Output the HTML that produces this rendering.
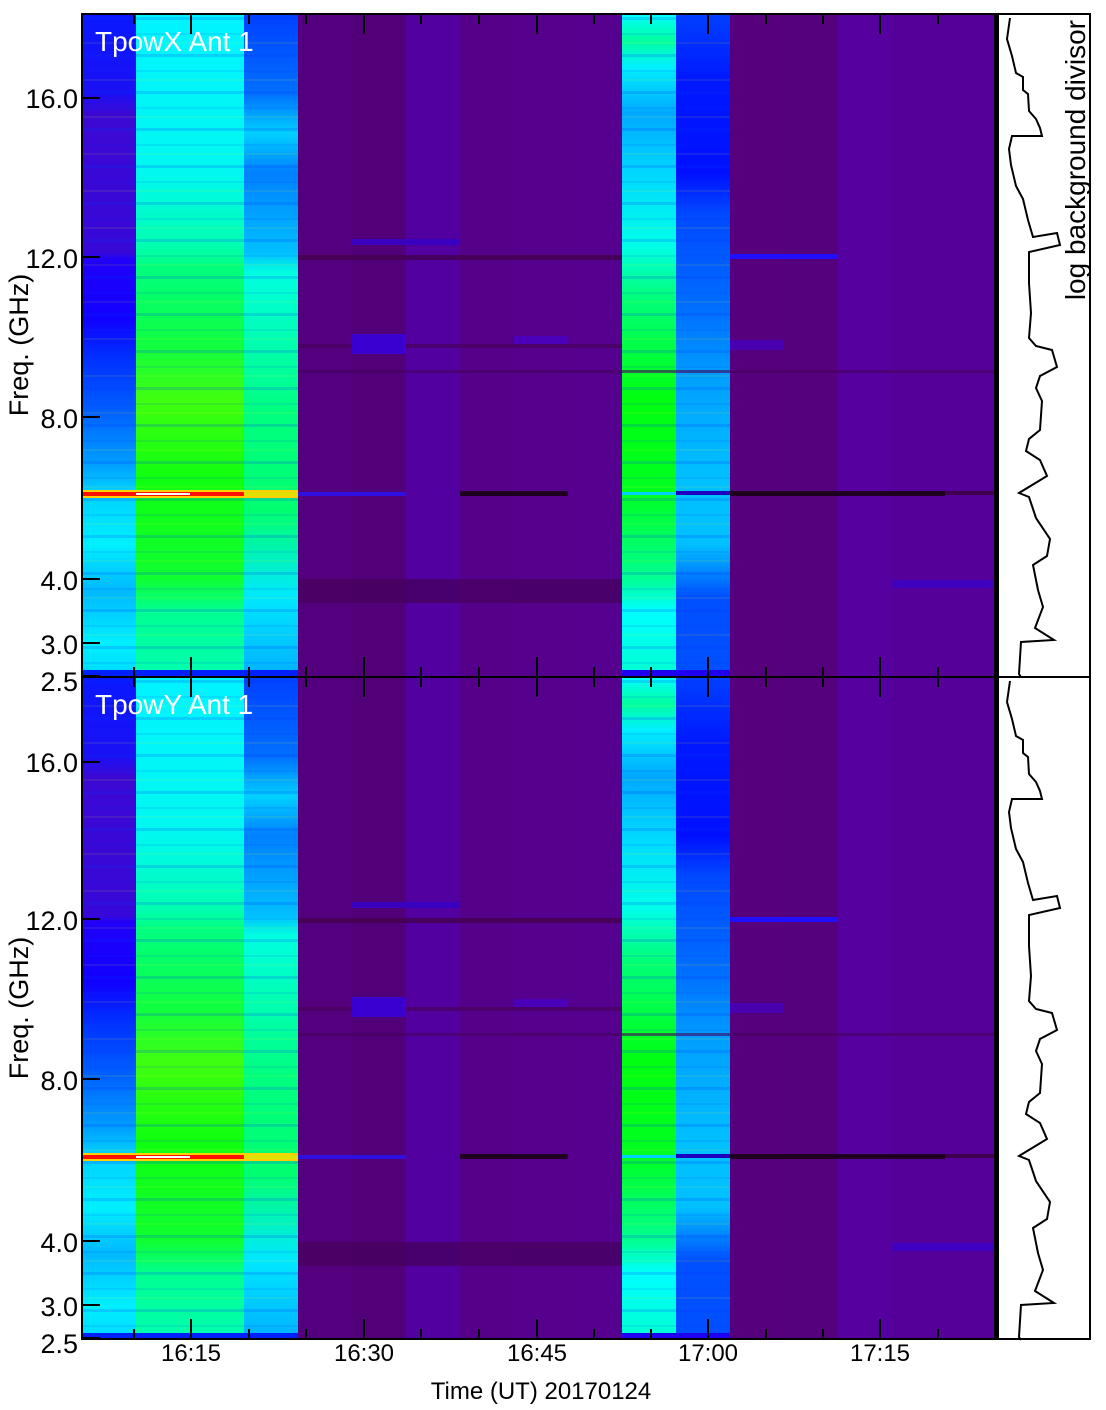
<!DOCTYPE html>
<html><head><meta charset="utf-8"><style>
html,body{margin:0;padding:0;background:#fff;}
svg{display:block;font-family:"Liberation Sans",sans-serif;}
</style></head><body>
<svg width="1106" height="1410" viewBox="0 0 1106 1410" xmlns="http://www.w3.org/2000/svg">
<defs>
<linearGradient id="g0" x1="0" y1="0" x2="0" y2="1">
<stop offset="0" stop-color="#0a18ff"/><stop offset="0.12" stop-color="#1a10f4"/><stop offset="0.15" stop-color="#3c08d4"/>
<stop offset="0.36" stop-color="#3808d8"/><stop offset="0.37" stop-color="#2000f8"/><stop offset="0.46" stop-color="#1000ff"/>
<stop offset="0.52" stop-color="#0030ff"/><stop offset="0.6" stop-color="#0060ff"/><stop offset="0.68" stop-color="#00a0ff"/>
<stop offset="0.72" stop-color="#00d0ff"/><stop offset="0.8" stop-color="#00f0ff"/><stop offset="0.87" stop-color="#00b8ff"/>
<stop offset="0.95" stop-color="#00f0ff"/><stop offset="1" stop-color="#00d8ff"/></linearGradient>
<linearGradient id="g1" x1="0" y1="0" x2="0" y2="1">
<stop offset="0" stop-color="#00f4ff"/><stop offset="0.24" stop-color="#00f8f0"/><stop offset="0.35" stop-color="#00ffb0"/>
<stop offset="0.38" stop-color="#00ff80"/><stop offset="0.5" stop-color="#10ff40"/><stop offset="0.58" stop-color="#40ff10"/>
<stop offset="0.7" stop-color="#10ff10"/><stop offset="0.85" stop-color="#10ff30"/><stop offset="0.9" stop-color="#00ff90"/>
<stop offset="1" stop-color="#00ffb0"/></linearGradient>
<linearGradient id="g3" x1="0" y1="0" x2="0" y2="1">
<stop offset="0" stop-color="#0040ff"/><stop offset="0.12" stop-color="#0070ff"/><stop offset="0.18" stop-color="#00d0ff"/>
<stop offset="0.24" stop-color="#0080ff"/><stop offset="0.36" stop-color="#00c0ff"/><stop offset="0.39" stop-color="#00ffe0"/>
<stop offset="0.6" stop-color="#00ff80"/><stop offset="0.75" stop-color="#00ff70"/><stop offset="0.88" stop-color="#00e8ff"/>
<stop offset="1" stop-color="#00b0ff"/></linearGradient>
<linearGradient id="g11" x1="0" y1="0" x2="0" y2="1">
<stop offset="0" stop-color="#00ffff"/><stop offset="0.04" stop-color="#00ffa0"/><stop offset="0.08" stop-color="#00f0ff"/>
<stop offset="0.15" stop-color="#00a8ff"/><stop offset="0.24" stop-color="#00d8ff"/><stop offset="0.35" stop-color="#00ffe8"/>
<stop offset="0.42" stop-color="#00ff80"/><stop offset="0.58" stop-color="#00ff10"/><stop offset="0.72" stop-color="#00ff20"/>
<stop offset="0.85" stop-color="#00ff90"/><stop offset="0.9" stop-color="#00ffff"/><stop offset="1" stop-color="#00ffd0"/></linearGradient>
<linearGradient id="g12" x1="0" y1="0" x2="0" y2="1">
<stop offset="0" stop-color="#0040ff"/><stop offset="0.1" stop-color="#0018ff"/><stop offset="0.24" stop-color="#0010ff"/>
<stop offset="0.3" stop-color="#0048ff"/><stop offset="0.45" stop-color="#0070ff"/><stop offset="0.55" stop-color="#00a0ff"/>
<stop offset="0.7" stop-color="#00c0ff"/><stop offset="0.8" stop-color="#00c0ff"/><stop offset="0.88" stop-color="#0050ff"/>
<stop offset="1" stop-color="#0050ff"/></linearGradient>
<pattern id="stripes" x="0" y="0" width="10" height="37" patternUnits="userSpaceOnUse">
<rect x="0" y="3" width="10" height="3" fill="#0030ff" opacity="0.18"/>
<rect x="0" y="19" width="10" height="2" fill="#0030ff" opacity="0.1"/>
<rect x="0" y="28" width="10" height="2" fill="#ffff00" opacity="0.08"/>
</pattern>
<g id="panel">
<rect x="82" y="0" width="54" height="663" fill="url(#g0)"/>
<rect x="136" y="0" width="108" height="663" fill="url(#g1)"/>
<rect x="244" y="0" width="54" height="663" fill="url(#g3)"/>
<rect x="298" y="0" width="54" height="663" fill="#54007e"/>
<rect x="352" y="0" width="54" height="663" fill="#52007a"/>
<rect x="406" y="0" width="54" height="663" fill="#5200a0"/>
<rect x="460" y="0" width="54" height="663" fill="#54008a"/>
<rect x="514" y="0" width="54" height="663" fill="#56008e"/>
<rect x="568" y="0" width="54" height="663" fill="#560090"/>
<rect x="622" y="0" width="54" height="663" fill="url(#g11)"/>
<rect x="676" y="0" width="54" height="663" fill="url(#g12)"/>
<rect x="730" y="0" width="54" height="663" fill="#56007e"/>
<rect x="784" y="0" width="54" height="663" fill="#55007c"/>
<rect x="838" y="0" width="54" height="663" fill="#5600a0"/>
<rect x="892" y="0" width="105" height="663" fill="#56009a"/>
<rect x="82" y="0" width="216" height="663" fill="url(#stripes)"/>
<rect x="622" y="0" width="108" height="663" fill="url(#stripes)"/>
<rect x="298" y="241" width="324" height="5" fill="#44004c" opacity="0.8"/>
<rect x="352" y="225" width="108" height="6" fill="#3a00c0"/>
<rect x="730" y="240" width="108" height="5" fill="#2010ff"/>
<rect x="298" y="330" width="324" height="4" fill="#48005c" opacity="0.7"/>
<rect x="352" y="320" width="54" height="20" fill="#3a00d0"/>
<rect x="514" y="322" width="54" height="8" fill="#4a00b8"/>
<rect x="730" y="326" width="54" height="10" fill="#4800b0"/>
<rect x="298" y="356" width="700" height="3" fill="#46005c" opacity="0.6"/>
<rect x="298" y="478" width="108" height="4" fill="#3010e0"/>
<rect x="460" y="477" width="108" height="5" fill="#200020"/>
<rect x="730" y="477" width="215" height="5" fill="#200020"/>
<rect x="945" y="477" width="52" height="4" fill="#400050"/>
<rect x="676" y="477" width="54" height="4" fill="#2000c0"/>
<rect x="622" y="478" width="54" height="3" fill="#00d0ff"/>
<rect x="82" y="477" width="162" height="6" fill="#ff1000"/>
<rect x="82" y="476" width="216" height="2" fill="#ffd000"/>
<rect x="82" y="482" width="216" height="2" fill="#ffd000"/>
<rect x="244" y="478" width="54" height="4" fill="#e0e000"/>
<rect x="136" y="479" width="54" height="2" fill="#ffffff"/>
<rect x="298" y="565" width="324" height="24" fill="#46005a" opacity="0.7"/>
<rect x="892" y="566" width="105" height="8" fill="#4000c0"/>
<rect x="82" y="656" width="216" height="7" fill="#0020ff"/>
<rect x="622" y="656" width="108" height="7" fill="#2000f0"/>
<rect x="994" y="0" width="3" height="663" fill="#000"/>
</g>
<path id="curve" fill="none" stroke="#000" stroke-width="2" d="M1010,4 L1007,25 L1012,42 L1016,59 L1023,63 L1023,76 L1028,80 L1029,97 L1036,105 L1040,114 L1042,122 L1012,122 L1009,135 L1011,151 L1016,172 L1023,185 L1028,206 L1033,223 L1057,219 L1060,231 L1029,238 L1029,269 L1031,299 L1029,324 L1036,332 L1052,336 L1057,353 L1040,362 L1036,374 L1042,387 L1040,416 L1029,425 L1026,437 L1040,446 L1047,462 L1019,479 L1029,483 L1036,504 L1050,525 L1047,542 L1033,551 L1038,576 L1043,593 L1035,614 L1054,626 L1021,628 L1019,660 L1021,663"/>
</defs>
<use href="#panel" transform="translate(0,14)"/>
<use href="#panel" transform="translate(0,677)"/>
<use href="#curve" transform="translate(0,14)"/>
<use href="#curve" transform="translate(0,677)"/>
<g fill="none" stroke="#000" stroke-width="2">
<rect x="82" y="14" width="1008" height="1325"/>
<line x1="82" y1="677" x2="1090" y2="677"/>
<line x1="998" y1="14" x2="998" y2="1339"/>
</g>
<g stroke="#000" stroke-width="2">
<path d="M191,14v20M364,14v20M537,14v20M708,14v20M880,14v20M134,14v10M249,14v10M306,14v10M421,14v10M479,14v10M594,14v10M651,14v10M766,14v10M823,14v10M938,14v10"/>
<path d="M191,677v-20M364,677v-20M537,677v-20M708,677v-20M880,677v-20M134,677v-10M249,677v-10M306,677v-10M421,677v-10M479,677v-10M594,677v-10M651,677v-10M766,677v-10M823,677v-10M938,677v-10"/>
<path d="M191,677v20M364,677v20M537,677v20M708,677v20M880,677v20M134,677v10M249,677v10M306,677v10M421,677v10M479,677v10M594,677v10M651,677v10M766,677v10M823,677v10M938,677v10"/>
<path d="M191,1339v-20M364,1339v-20M537,1339v-20M708,1339v-20M880,1339v-20M134,1339v-10M249,1339v-10M306,1339v-10M421,1339v-10M479,1339v-10M594,1339v-10M651,1339v-10M766,1339v-10M823,1339v-10M938,1339v-10"/>
<path d="M82,98h18M82,257h18M82,417h18M82,579h18M82,643h18M82,676h18"/>
<path d="M82,762h18M82,919h18M82,1079h18M82,1241h18M82,1305h18M82,1338h18"/>
</g>
<g font-size="27" fill="#000" text-anchor="end">
<text x="78" y="108">16.0</text><text x="78" y="268">12.0</text><text x="78" y="428">8.0</text>
<text x="78" y="590">4.0</text><text x="78" y="654">3.0</text><text x="78" y="691">2.5</text>
<text x="78" y="772">16.0</text><text x="78" y="930">12.0</text><text x="78" y="1090">8.0</text>
<text x="78" y="1252">4.0</text><text x="78" y="1316">3.0</text><text x="78" y="1353">2.5</text>
</g>
<g font-size="24" fill="#000" text-anchor="middle">
<text x="191" y="1361">16:15</text><text x="364" y="1361">16:30</text><text x="537" y="1361">16:45</text>
<text x="708" y="1361">17:00</text><text x="880" y="1361">17:15</text>
<text x="541" y="1399">Time (UT) 20170124</text>
</g>
<g font-size="27" fill="#000" text-anchor="middle">
<text transform="translate(28,345) rotate(-90)">Freq. (GHz)</text>
<text transform="translate(28,1008) rotate(-90)">Freq. (GHz)</text>
</g>
<text transform="translate(1085,20) rotate(-90)" font-size="28" text-anchor="end" fill="#000">log background divisor</text>
<g font-size="28" fill="#fff">
<text x="95" y="51">TpowX Ant 1</text>
<text x="95" y="714">TpowY Ant 1</text>
</g>
</svg>
</body></html>
